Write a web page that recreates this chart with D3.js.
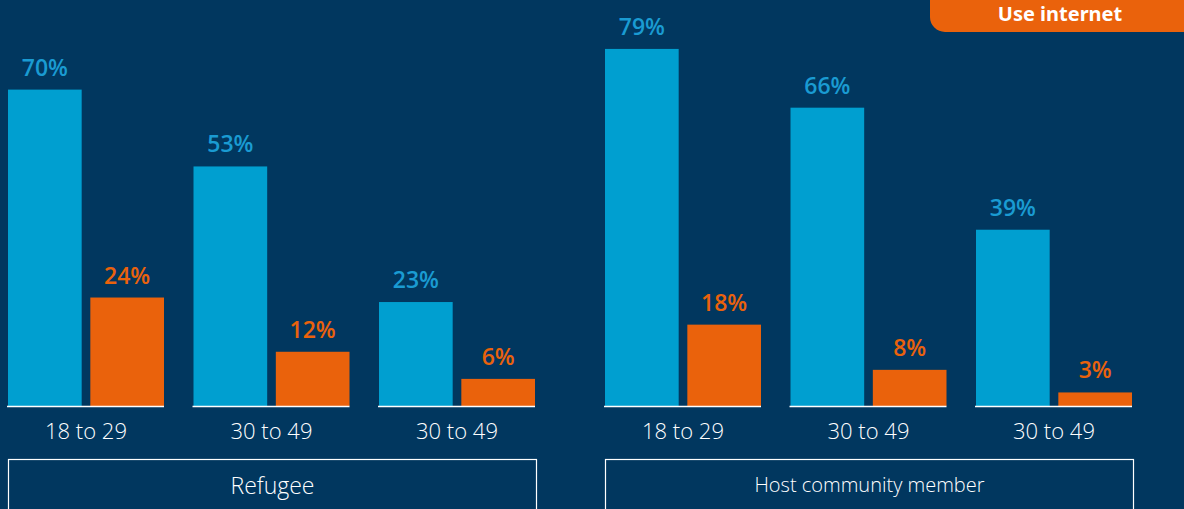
<!DOCTYPE html>
<html>
<head>
<meta charset="utf-8">
<script src="https://cdn.jsdelivr.net/npm/d3@7"></script>
<style>
  html, body { margin: 0; padding: 0; background: #01375f; }
  svg { display: block; }
</style>
</head>
<body>
<svg id="chart" width="1184" height="509"></svg>
<script>
// Age groups shown under each panel
const ageGroups = ["18 to 29", "30 to 49", "30 to 49"];
const panels = ["Refugee", "Host community member"];
const seriesNames = ["Use mobile", "Use internet"];
// Percent values per panel, per age group
const refugeeMobile = [70, 53, 23];
const refugeeInternet = [24, 12, 6];
const hostMobile = [79, 66, 39];
const hostInternet = [18, 8, 3];

const panelData = [
  { name: panels[0], mobile: refugeeMobile, internet: refugeeInternet },
  { name: panels[1], mobile: hostMobile, internet: hostInternet }
];

const W = 1184, H = 509;
const BG = "#01375f";
const BLUE = "#009fd0";
const BLUE_TXT = "#1a9bd2";
const ORANGE = "#ea620c";

const svg = d3.select("#chart");
svg.append("rect").attr("width", W).attr("height", H).attr("fill", BG);

const baseY = 406;
const y = d3.scaleLinear().domain([0, 100]).range([baseY, baseY - 452]);

const panelStarts = [8, 605];
const panelWidth = 529;
const groupStep = 185.5;

const colorOf = d3.scaleOrdinal().domain(seriesNames).range([BLUE, ORANGE]);
const labelColorOf = d3.scaleOrdinal().domain(seriesNames).range([BLUE_TXT, ORANGE]);

panelData.forEach((p, pi) => {
  const x0 = panelStarts[pi];
  const gx = d3.scaleLinear().domain([0, 1]).range([x0, x0 + groupStep]);
  const inner = d3.scaleBand().domain(seriesNames).range([0, 156]).paddingInner(0.105);

  const g = svg.append("g");
  ageGroups.forEach((ag, i) => {
    const gx0 = gx(i);
    const vals = [p.mobile[i], p.internet[i]];
    seriesNames.forEach((s, si) => {
      const bx = gx0 + inner(s);
      const v = vals[si];
      g.append("rect")
        .attr("x", bx).attr("y", y(v))
        .attr("width", inner.bandwidth()).attr("height", baseY - y(v))
        .attr("fill", colorOf(s));
      g.append("text")
        .attr("x", bx + inner.bandwidth() / 2)
        .attr("y", y(v) - 14)
        .attr("text-anchor", "middle")
        .attr("font-family", "'Open Sans', sans-serif")
        .attr("font-weight", 600)
        .attr("font-size", 23)
        .attr("fill", labelColorOf(s))
        .text(v + "%");
    });
    // baseline under each group
    g.append("line")
      .attr("x1", gx0 - 1).attr("x2", gx0 + 156)
      .attr("y1", baseY + 0.5).attr("y2", baseY + 0.5)
      .attr("stroke", "#ffffff").attr("stroke-width", 1.5);
    g.append("text")
      .attr("x", gx0 + 78).attr("y", 439)
      .attr("text-anchor", "middle")
      .attr("font-family", "'Open Sans', sans-serif")
      .attr("font-weight", 300)
      .attr("font-size", 22)
      .attr("fill", "#ffffff")
      .text(ag);
  });

  // panel caption box
  g.append("rect")
    .attr("x", x0 + 0.5).attr("y", 459.5)
    .attr("width", panelWidth - 1).attr("height", 60)
    .attr("fill", "none").attr("stroke", "#ffffff").attr("stroke-width", 1.2);
  g.append("text")
    .attr("x", x0 + panelWidth / 2).attr("y", pi === 0 ? 494 : 492)
    .attr("text-anchor", "middle")
    .attr("font-family", "'Open Sans', sans-serif")
    .attr("font-weight", 300)
    .attr("font-size", pi === 0 ? 23 : 20)
    .attr("fill", "#ffffff")
    .text(p.name);
});

// legend pill for the internet series
svg.append("rect")
  .attr("x", 930).attr("y", -20).attr("width", 280).attr("height", 52)
  .attr("rx", 15).attr("fill", ORANGE);
svg.append("text")
  .attr("x", 1060).attr("y", 21)
  .attr("text-anchor", "middle")
  .attr("font-family", "'Noto Sans', sans-serif")
  .attr("font-weight", 700)
  .attr("font-size", 20)
  .attr("fill", "#ffffff")
  .text(seriesNames[1]);
</script>
</body>
</html>
